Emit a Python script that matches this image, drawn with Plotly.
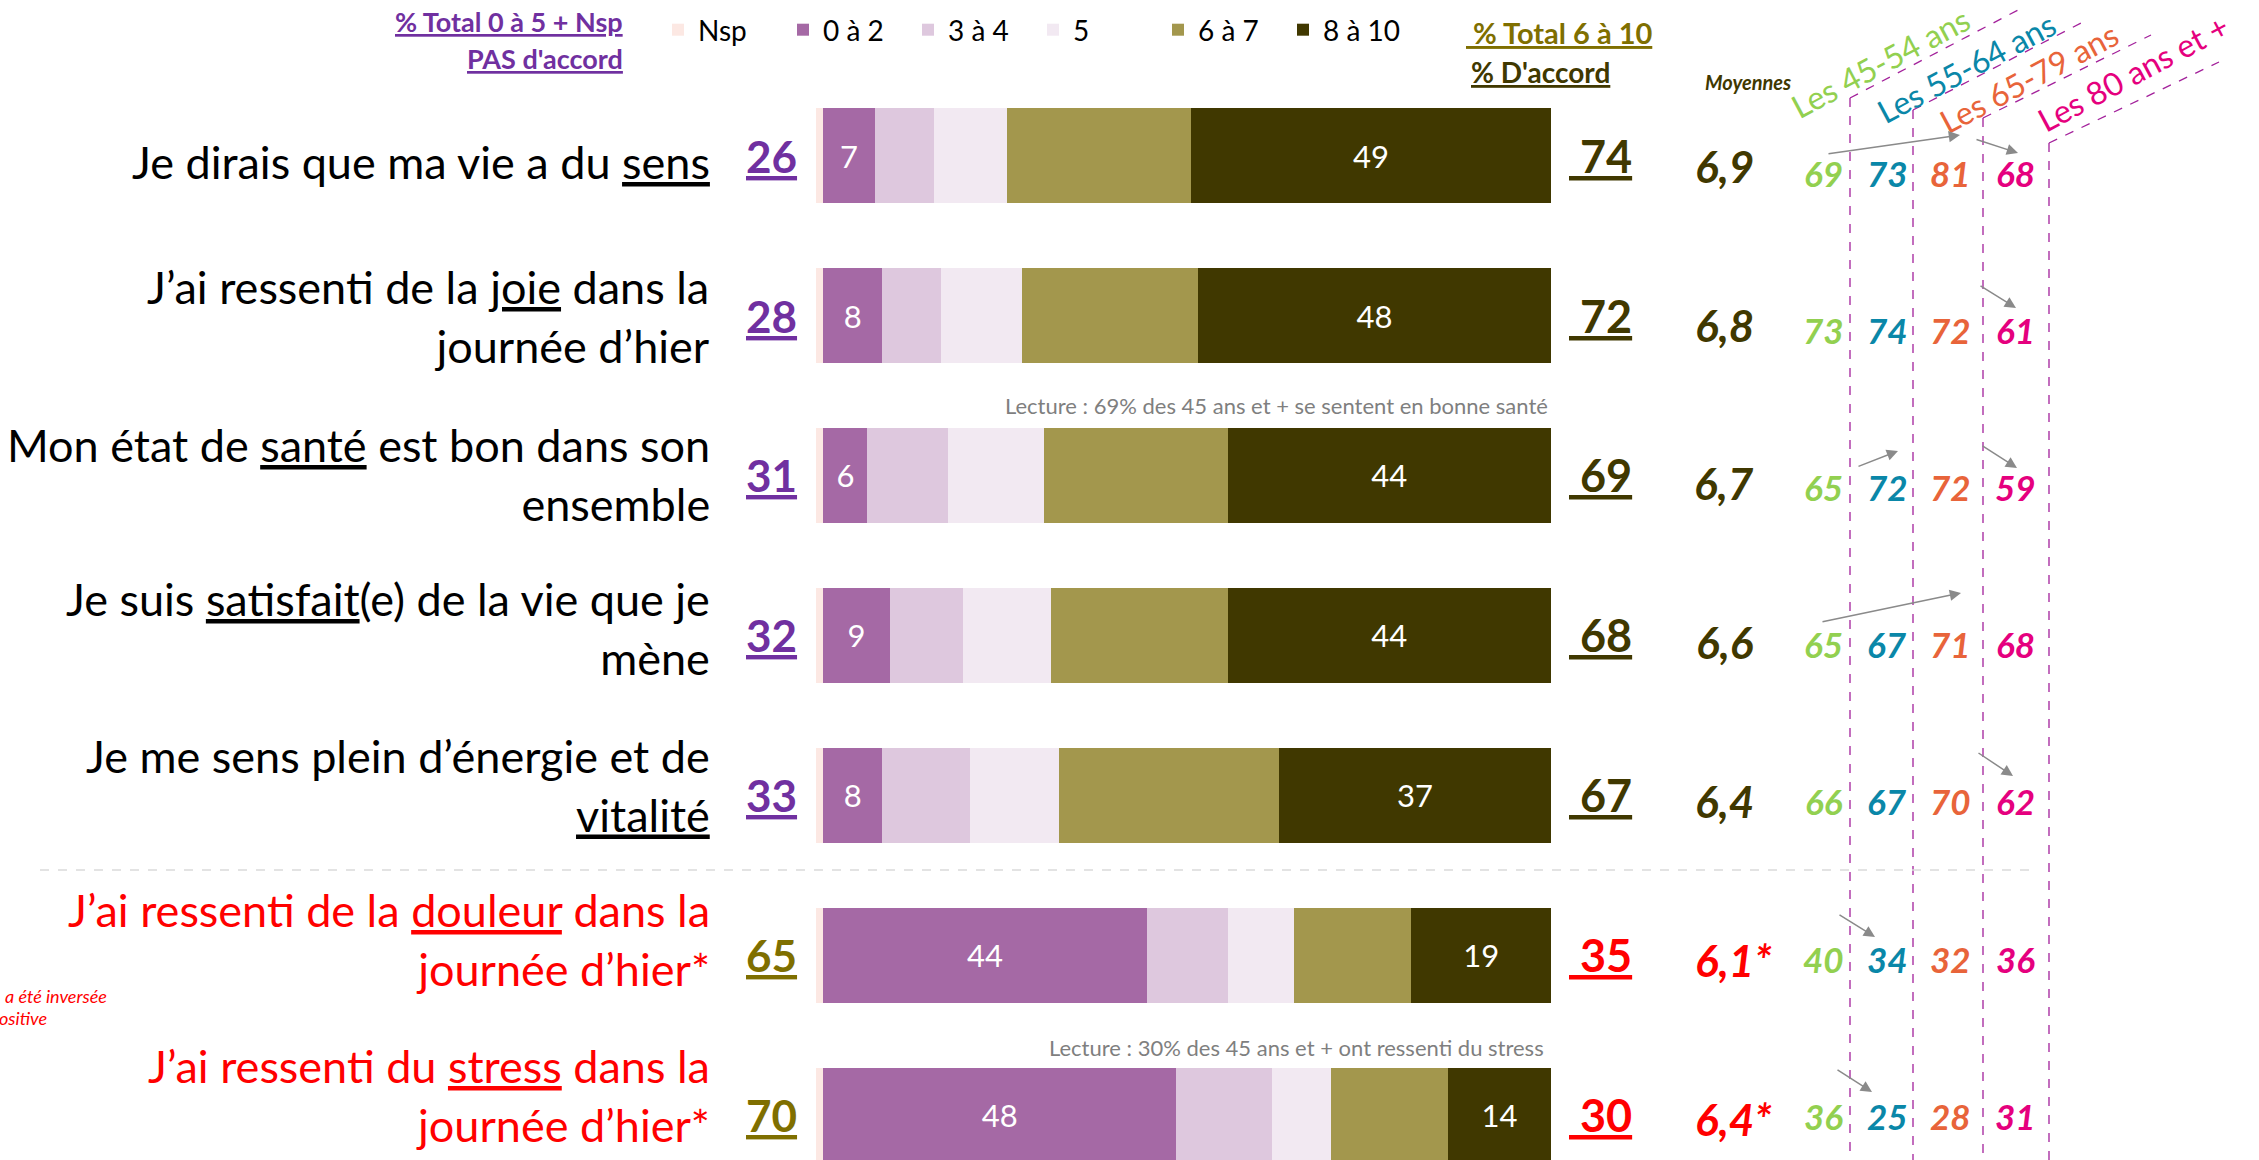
import plotly.graph_objects as go

W, H = 2259, 1160
FONT = "Lato"

# ---------------- data ----------------
questions = [
    "Je dirais que ma vie a du sens",
    "J’ai ressenti de la joie dans la journée d’hier",
    "Mon état de santé est bon dans son ensemble",
    "Je suis satisfait(e) de la vie que je mène",
    "Je me sens plein d’énergie et de vitalité",
    "J’ai ressenti de la douleur dans la journée d’hier*",
    "J’ai ressenti du stress dans la journée d’hier*",
]
question_labels = [
    "Je dirais que ma vie a du <u>sens</u>",
    "J’ai ressenti de la <u>joie</u> dans la<br>journée d’hier",
    "Mon état de <u>santé</u> est bon dans son<br>ensemble",
    "Je suis <u>satisfait</u>(e) de la vie que je<br>mène",
    "Je me sens plein d’énergie et de<br><u>vitalité</u>",
    "J’ai ressenti de la <u>douleur</u> dans la<br>journée d’hier*",
    "J’ai ressenti du <u>stress</u> dans la<br>journée d’hier*",
]
inverted = [False, False, False, False, False, True, True]

segment_names = ["Nsp", "0 à 2", "3 à 4", "5", "6 à 7", "8 à 10"]
nsp = [1, 1, 1, 1, 1, 1, 1]
v0_2 = [7, 8, 6, 9, 8, 44, 48]
v3_4 = [8, 8, 11, 10, 12, 11, 13]
v5 = [10, 11, 13, 12, 12, 9, 8]
v6_7 = [25, 24, 25, 24, 30, 16, 16]
v8_10 = [49, 48, 44, 44, 37, 19, 14]

total_pas_accord = [26, 28, 31, 32, 33, 65, 70]
total_accord = [74, 72, 69, 68, 67, 35, 30]
moyennes = ["6,9", "6,8", "6,7", "6,6", "6,4", "6,1*", "6,4*"]

age_groups = ["Les 45-54 ans", "Les 55-64 ans", "Les 65-79 ans", "Les 80 ans et +"]
age_45_54 = [69, 73, 65, 65, 66, 40, 36]
age_55_64 = [73, 74, 72, 67, 67, 34, 25]
age_65_79 = [81, 72, 72, 71, 70, 32, 28]
age_80_plus = [68, 61, 59, 68, 62, 36, 31]

lecture_notes = ["Lecture : 69% des 45 ans et + se sentent en bonne santé",
                 "Lecture : 30% des 45 ans et + ont ressenti du stress"]
footnote_lines = ["a été inversée", "ositive"]

# ---------------- styles ----------------
segment_values = [nsp, v0_2, v3_4, v5, v6_7, v8_10]
segment_colors = ["#FCE8E3", "#A569A5", "#DEC8DE", "#F2E9F2", "#A3974D", "#403800"]
segment_labelled = [False, True, False, False, False, True]
age_values = [age_45_54, age_55_64, age_65_79, age_80_plus]
age_colors = ["#92D050", "#0A87A8", "#E8643A", "#E5007E"]
label_offsets = [6, 1, -1, -7, -10, -16, -20]

PURPLE = "#7030A0"
OLIVE = "#7F6F00"
DARK = "#403800"
RED = "#FF0000"
GREY = "#7F7F7F"
DASH_PURPLE = "#A3219B"


def px(x):
    return x / W


def py(y):
    return 1 - y / H


fig = go.Figure()
for name, vals, color, lab in zip(segment_names, segment_values, segment_colors, segment_labelled):
    fig.add_trace(go.Bar(
        y=questions, x=vals, name=name, orientation="h",
        marker=dict(color=color, line=dict(width=0)),
        text=[str(v) for v in vals] if lab else None,
        textposition="inside" if lab else "none",
        insidetextanchor="middle", textangle=0,
        textfont=dict(family=FONT, size=31, color="white"),
        hovertemplate="%{y}<br>" + name + " : %{x}%<extra></extra>",
    ))

annotations = []
shapes = []

# row-level texts
for i, q in enumerate(questions):
    inv = inverted[i]
    annotations.append(dict(
        xref="paper", yref="y", x=px(712), y=q, yshift=-label_offsets[i],
        xanchor="right", yanchor="middle", align="right",
        text=question_labels[i], showarrow=False,
        font=dict(family=FONT, size=45, color=RED if inv else "black"),
    ))
    annotations.append(dict(
        xref="paper", yref="y", x=px(799), y=q, yshift=0,
        xanchor="right", yanchor="middle",
        text="<b><u>%d</u></b>" % total_pas_accord[i], showarrow=False,
        font=dict(family=FONT, size=44, color=OLIVE if inv else PURPLE),
    ))
    annotations.append(dict(
        xref="paper", yref="y", x=px(1634), y=q, yshift=0,
        xanchor="right", yanchor="middle",
        text="<b><u>\u00a0%d</u></b>" % total_accord[i], showarrow=False,
        font=dict(family=FONT, size=45, color=RED if inv else DARK),
    ))
    annotations.append(dict(
        xref="paper", yref="y", x=px(1724) + (0.004 if inv else 0), y=q, yshift=-(10 - i),
        xanchor="center", yanchor="middle",
        text="<b><i>%s</i></b>" % moyennes[i], showarrow=False,
        font=dict(family=FONT, size=44, color=RED if inv else DARK),
    ))
    for vals, col, xc in zip(age_values, age_colors, [1824, 1887, 1950, 2015]):
        annotations.append(dict(
            xref="paper", yref="y", x=px(xc), y=q, yshift=-(17 - 2.7 * i),
            xanchor="center", yanchor="middle",
            text="<b><i>%d</i></b>" % vals[i], showarrow=False,
            font=dict(family=FONT, size=35, color=col),
        ))

# headers
annotations += [
    dict(xref="paper", yref="paper", x=px(625), y=py(22), xanchor="right", yanchor="middle",
         text="<b><u>% Total 0 à 5 + Nsp</u></b>", showarrow=False,
         font=dict(family=FONT, size=27, color=PURPLE)),
    dict(xref="paper", yref="paper", x=px(625), y=py(58), xanchor="right", yanchor="middle",
         text="<b><u>PAS d'accord</u></b>", showarrow=False,
         font=dict(family=FONT, size=27, color=PURPLE)),
    dict(xref="paper", yref="paper", x=px(1464), y=py(32), xanchor="left", yanchor="middle",
         text="<b><u>\u00a0% Total 6 à 10</u></b>", showarrow=False,
         font=dict(family=FONT, size=29, color=OLIVE)),
    dict(xref="paper", yref="paper", x=px(1469), y=py(72), xanchor="left", yanchor="middle",
         text="<b><u>% D'accord</u></b>", showarrow=False,
         font=dict(family=FONT, size=28, color=DARK)),
    dict(xref="paper", yref="paper", x=px(1748), y=py(82), xanchor="center", yanchor="middle",
         text="<b><i>Moyennes</i></b>", showarrow=False,
         font=dict(family=FONT, size=20, color=DARK)),
    dict(xref="paper", yref="paper", x=px(1550), y=py(405), xanchor="right", yanchor="middle",
         text=lecture_notes[0], showarrow=False,
         font=dict(family=FONT, size=22, color=GREY)),
    dict(xref="paper", yref="paper", x=px(1546), y=py(1047), xanchor="right", yanchor="middle",
         text=lecture_notes[1], showarrow=False,
         font=dict(family=FONT, size=22, color=GREY)),
    dict(xref="paper", yref="paper", x=px(109), y=py(996), xanchor="right", yanchor="middle",
         text="<i>%s</i>" % footnote_lines[0], showarrow=False,
         font=dict(family=FONT, size=18, color=RED)),
    dict(xref="paper", yref="paper", x=px(49), y=py(1018), xanchor="right", yanchor="middle",
         text="<i>%s</i>" % footnote_lines[1], showarrow=False,
         font=dict(family=FONT, size=18, color=RED)),
]

# age group headers (rotated) with dashed guides
age_header_pos = [(1880, 62), (1966, 67), (2029, 78), (2133, 73)]
vcol_x = [1850, 1913, 1983, 2049]
vcol_top = [98, 110, 118, 143]
diag_end = [(2018, 10), (2081, 23), (2151, 35), (2219, 62)]
for g, col, (hx, hy), vx, vt, (dx, dy) in zip(age_groups, age_colors, age_header_pos, vcol_x, vcol_top, diag_end):
    annotations.append(dict(
        xref="paper", yref="paper", x=px(hx), y=py(hy), xanchor="center", yanchor="middle",
        text=g, textangle=-28, showarrow=False, font=dict(family=FONT, size=32, color=col)))
    shapes.append(dict(type="line", xref="paper", yref="paper", x0=px(vx), y0=py(vt), x1=px(vx), y1=0,
                       line=dict(color=DASH_PURPLE, width=1.3, dash="dash")))
    shapes.append(dict(type="line", xref="paper", yref="paper", x0=px(vx), y0=py(vt), x1=px(dx), y1=py(dy),
                       line=dict(color=DASH_PURPLE, width=1.3, dash="dash")))

# separator between positive and inverted items
shapes.append(dict(type="line", xref="paper", yref="paper", x0=px(40), y0=py(870), x1=px(2033), y1=py(870),
                   line=dict(color="#DADADA", width=1.5, dash="dash")))

# significance arrows (tail_x, tail_y, head_x, head_y) in pixels
arrows = [
    (1827, 154, 1960, 135), (1975, 139, 2018, 153),
    (1979, 285, 2016, 308),
    (1857, 467, 1898, 451), (1981, 445, 2017, 468),
    (1821, 622, 1961, 593),
    (1977, 752, 2013, 776),
    (1838, 914, 1875, 937),
    (1836, 1069, 1872, 1092),
]
for tx, ty, hx, hy in arrows:
    annotations.append(dict(
        xref="paper", yref="paper", x=px(hx), y=py(hy), axref="pixel", ayref="pixel",
        ax=tx - hx, ay=ty - hy, text="", showarrow=True, arrowhead=2, arrowsize=1.5,
        arrowwidth=1.5, arrowcolor="#8A8A8A", standoff=0, startstandoff=0))

fig.update_layout(
    width=W, height=H, autosize=False,
    margin=dict(l=0, r=0, t=0, b=0, pad=0),
    paper_bgcolor="white", plot_bgcolor="white",
    barmode="stack", bargap=0.406,
    xaxis=dict(domain=[816 / W, 1551 / W], range=[0, 100], visible=False, fixedrange=True),
    yaxis=dict(type="category", categoryorder="array", categoryarray=questions,
               range=[6.281, -0.973], visible=False, domain=[0, 1], fixedrange=True),
    showlegend=True,
    legend=dict(orientation="h", traceorder="normal", x=px(658), xanchor="left",
                y=py(30), yanchor="middle", bgcolor="rgba(0,0,0,0)", borderwidth=0,
                font=dict(family=FONT, size=28, color="black"), entrywidth=80,
                itemclick=False, itemdoubleclick=False),
    annotations=annotations, shapes=shapes,
    font=dict(family=FONT),
)

fig.write_html("out.html", config={"displayModeBar": False},
               post_script="document.body.style.margin='0';document.body.style.overflow='hidden';")
